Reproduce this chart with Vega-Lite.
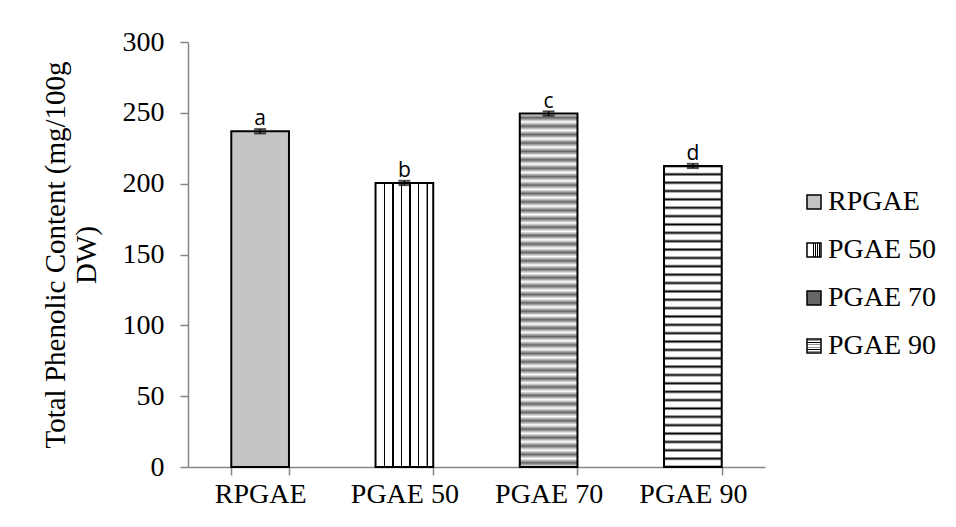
{
  "$schema": "https://vega.github.io/schema/vega-lite/v6.json",
  "width": 577,
  "height": 425,
  "autosize": "none",
  "padding": {"left": 188, "top": 42, "right": 191, "bottom": 60},
  "background": "white",
  "config": {"view": {"stroke": null}, "font": "Liberation Serif"},
  "data": {
    "values": [
      {"group": "RPGAE", "value": 237, "err": 1.5, "letter": "a"},
      {"group": "PGAE 50", "value": 200.5, "err": 1.5, "letter": "b"},
      {"group": "PGAE 70", "value": 249.5, "err": 1.5, "letter": "c"},
      {"group": "PGAE 90", "value": 212.5, "err": 1.5, "letter": "d"}
    ]
  },
  "encoding": {
    "x": {
      "field": "group", "type": "nominal", "sort": null, "title": null,
      "scale": {"paddingInner": 0.6, "paddingOuter": 0.3},
      "axis": {
        "labelAngle": 0, "labelFont": "Liberation Serif", "labelFontSize": 28, "labelColor": "black",
        "labelPadding": 5, "tickBand": "extent", "tickSize": 8, "tickColor": "#868686", "tickWidth": 1.5,
        "domainColor": "#868686", "domainWidth": 1.5, "grid": false
      }
    },
    "y": {
      "field": "value", "type": "quantitative",
      "scale": {"domain": [0, 300], "nice": false},
      "axis": {
        "title": ["Total Phenolic Content (mg/100g", "DW)"],
        "values": [0, 50, 100, 150, 200, 250, 300], "grid": false,
        "labelFont": "Liberation Serif", "labelFontSize": 28, "labelColor": "black", "labelPadding": 16,
        "tickSize": 8, "tickColor": "#868686", "tickWidth": 1.5,
        "domainColor": "#868686", "domainWidth": 1.5,
        "titleFont": "Liberation Serif", "titleFontSize": 29, "titleFontWeight": "normal", "titleColor": "black",
        "titleLineHeight": 31, "titlePadding": 21
      }
    }
  },
  "layer": [
    {
      "mark": {"type": "bar", "stroke": "black", "strokeWidth": 2},
      "encoding": {
        "fill": {
          "field": "group", "type": "nominal", "sort": null,
          "scale": {
            "domain": ["RPGAE", "PGAE 50", "PGAE 70", "PGAE 90"],
            "range": [
              "#c4c4c4",
              {"expr": "{gradient:'linear',x1:0,y1:0,x2:1,y2:0,stops:[{offset:0,color:'white'},{offset:0.141,color:'white'},{offset:0.142,color:'black'},{offset:0.168,color:'black'},{offset:0.169,color:'white'},{offset:0.289,color:'white'},{offset:0.29,color:'black'},{offset:0.316,color:'black'},{offset:0.317,color:'white'},{offset:0.438,color:'white'},{offset:0.439,color:'black'},{offset:0.465,color:'black'},{offset:0.466,color:'white'},{offset:0.586,color:'white'},{offset:0.587,color:'black'},{offset:0.613,color:'black'},{offset:0.614,color:'white'},{offset:0.734,color:'white'},{offset:0.735,color:'black'},{offset:0.761,color:'black'},{offset:0.762,color:'white'},{offset:0.883,color:'white'},{offset:0.884,color:'black'},{offset:0.91,color:'black'},{offset:0.911,color:'white'},{offset:1,color:'white'}]}"},
              {"expr": "{gradient:'linear',x1:0,y1:0,x2:0,y2:1,stops:[{offset:0,color:'white'},{offset:0.0119,color:'#666'},{offset:0.0238,color:'white'},{offset:0.0357,color:'#666'},{offset:0.0476,color:'white'},{offset:0.0595,color:'#666'},{offset:0.0714,color:'white'},{offset:0.0833,color:'#666'},{offset:0.0952,color:'white'},{offset:0.1071,color:'#666'},{offset:0.119,color:'white'},{offset:0.131,color:'#666'},{offset:0.1429,color:'white'},{offset:0.1548,color:'#666'},{offset:0.1667,color:'white'},{offset:0.1786,color:'#666'},{offset:0.1905,color:'white'},{offset:0.2024,color:'#666'},{offset:0.2143,color:'white'},{offset:0.2262,color:'#666'},{offset:0.2381,color:'white'},{offset:0.25,color:'#666'},{offset:0.2619,color:'white'},{offset:0.2738,color:'#666'},{offset:0.2857,color:'white'},{offset:0.2976,color:'#666'},{offset:0.3095,color:'white'},{offset:0.3214,color:'#666'},{offset:0.3333,color:'white'},{offset:0.3452,color:'#666'},{offset:0.3571,color:'white'},{offset:0.369,color:'#666'},{offset:0.381,color:'white'},{offset:0.3929,color:'#666'},{offset:0.4048,color:'white'},{offset:0.4167,color:'#666'},{offset:0.4286,color:'white'},{offset:0.4405,color:'#666'},{offset:0.4524,color:'white'},{offset:0.4643,color:'#666'},{offset:0.4762,color:'white'},{offset:0.4881,color:'#666'},{offset:0.5,color:'white'},{offset:0.5119,color:'#666'},{offset:0.5238,color:'white'},{offset:0.5357,color:'#666'},{offset:0.5476,color:'white'},{offset:0.5595,color:'#666'},{offset:0.5714,color:'white'},{offset:0.5833,color:'#666'},{offset:0.5952,color:'white'},{offset:0.6071,color:'#666'},{offset:0.619,color:'white'},{offset:0.631,color:'#666'},{offset:0.6429,color:'white'},{offset:0.6548,color:'#666'},{offset:0.6667,color:'white'},{offset:0.6786,color:'#666'},{offset:0.6905,color:'white'},{offset:0.7024,color:'#666'},{offset:0.7143,color:'white'},{offset:0.7262,color:'#666'},{offset:0.7381,color:'white'},{offset:0.75,color:'#666'},{offset:0.7619,color:'white'},{offset:0.7738,color:'#666'},{offset:0.7857,color:'white'},{offset:0.7976,color:'#666'},{offset:0.8095,color:'white'},{offset:0.8214,color:'#666'},{offset:0.8333,color:'white'},{offset:0.8452,color:'#666'},{offset:0.8571,color:'white'},{offset:0.869,color:'#666'},{offset:0.881,color:'white'},{offset:0.8929,color:'#666'},{offset:0.9048,color:'white'},{offset:0.9167,color:'#666'},{offset:0.9286,color:'white'},{offset:0.9405,color:'#666'},{offset:0.9524,color:'white'},{offset:0.9643,color:'#666'},{offset:0.9762,color:'white'},{offset:0.9881,color:'#666'},{offset:1,color:'white'}]}"},
              {"expr": "{gradient:'linear',x1:0,y1:0,x2:0,y2:1,stops:[{offset:0,color:'black'},{offset:0.007,color:'white'},{offset:0.0208,color:'white'},{offset:0.0278,color:'black'},{offset:0.0348,color:'white'},{offset:0.0486,color:'white'},{offset:0.0556,color:'black'},{offset:0.0626,color:'white'},{offset:0.0763,color:'white'},{offset:0.0833,color:'black'},{offset:0.0903,color:'white'},{offset:0.1041,color:'white'},{offset:0.1111,color:'black'},{offset:0.1181,color:'white'},{offset:0.1319,color:'white'},{offset:0.1389,color:'black'},{offset:0.1459,color:'white'},{offset:0.1597,color:'white'},{offset:0.1667,color:'black'},{offset:0.1737,color:'white'},{offset:0.1874,color:'white'},{offset:0.1944,color:'black'},{offset:0.2014,color:'white'},{offset:0.2152,color:'white'},{offset:0.2222,color:'black'},{offset:0.2292,color:'white'},{offset:0.243,color:'white'},{offset:0.25,color:'black'},{offset:0.257,color:'white'},{offset:0.2708,color:'white'},{offset:0.2778,color:'black'},{offset:0.2848,color:'white'},{offset:0.2986,color:'white'},{offset:0.3056,color:'black'},{offset:0.3126,color:'white'},{offset:0.3263,color:'white'},{offset:0.3333,color:'black'},{offset:0.3403,color:'white'},{offset:0.3541,color:'white'},{offset:0.3611,color:'black'},{offset:0.3681,color:'white'},{offset:0.3819,color:'white'},{offset:0.3889,color:'black'},{offset:0.3959,color:'white'},{offset:0.4097,color:'white'},{offset:0.4167,color:'black'},{offset:0.4237,color:'white'},{offset:0.4374,color:'white'},{offset:0.4444,color:'black'},{offset:0.4514,color:'white'},{offset:0.4652,color:'white'},{offset:0.4722,color:'black'},{offset:0.4792,color:'white'},{offset:0.493,color:'white'},{offset:0.5,color:'black'},{offset:0.507,color:'white'},{offset:0.5208,color:'white'},{offset:0.5278,color:'black'},{offset:0.5348,color:'white'},{offset:0.5486,color:'white'},{offset:0.5556,color:'black'},{offset:0.5626,color:'white'},{offset:0.5763,color:'white'},{offset:0.5833,color:'black'},{offset:0.5903,color:'white'},{offset:0.6041,color:'white'},{offset:0.6111,color:'black'},{offset:0.6181,color:'white'},{offset:0.6319,color:'white'},{offset:0.6389,color:'black'},{offset:0.6459,color:'white'},{offset:0.6597,color:'white'},{offset:0.6667,color:'black'},{offset:0.6737,color:'white'},{offset:0.6874,color:'white'},{offset:0.6944,color:'black'},{offset:0.7014,color:'white'},{offset:0.7152,color:'white'},{offset:0.7222,color:'black'},{offset:0.7292,color:'white'},{offset:0.743,color:'white'},{offset:0.75,color:'black'},{offset:0.757,color:'white'},{offset:0.7708,color:'white'},{offset:0.7778,color:'black'},{offset:0.7848,color:'white'},{offset:0.7986,color:'white'},{offset:0.8056,color:'black'},{offset:0.8126,color:'white'},{offset:0.8263,color:'white'},{offset:0.8333,color:'black'},{offset:0.8403,color:'white'},{offset:0.8541,color:'white'},{offset:0.8611,color:'black'},{offset:0.8681,color:'white'},{offset:0.8819,color:'white'},{offset:0.8889,color:'black'},{offset:0.8959,color:'white'},{offset:0.9097,color:'white'},{offset:0.9167,color:'black'},{offset:0.9237,color:'white'},{offset:0.9374,color:'white'},{offset:0.9444,color:'black'},{offset:0.9514,color:'white'},{offset:0.9652,color:'white'},{offset:0.9722,color:'black'},{offset:0.9792,color:'white'},{offset:0.993,color:'white'},{offset:1,color:'black'}]}"}
            ]
          },
          "legend": {
            "title": null, "orient": "none", "legendX": 612, "legendY": 146, "padding": 0,
            "labelFont": "Liberation Serif", "labelFontSize": 28, "labelColor": "black",
            "symbolType": "square", "symbolSize": 196, "symbolStrokeColor": "black", "symbolStrokeWidth": 1.5,
            "rowPadding": 20, "labelOffset": 0
          }
        }
      }
    },
    {
      "mark": {"type": "errorbar", "ticks": {"size": 12, "color": "black", "thickness": 2}, "rule": {"color": "black", "strokeWidth": 1.5}},
      "encoding": {
        "yError": {"field": "err"}
      }
    },
    {
      "mark": {"type": "text", "baseline": "alphabetic", "dy": -6, "font": "Open Sans", "fontSize": 21, "color": "black"},
      "encoding": {
        "text": {"field": "letter"}
      }
    }
  ]
}
